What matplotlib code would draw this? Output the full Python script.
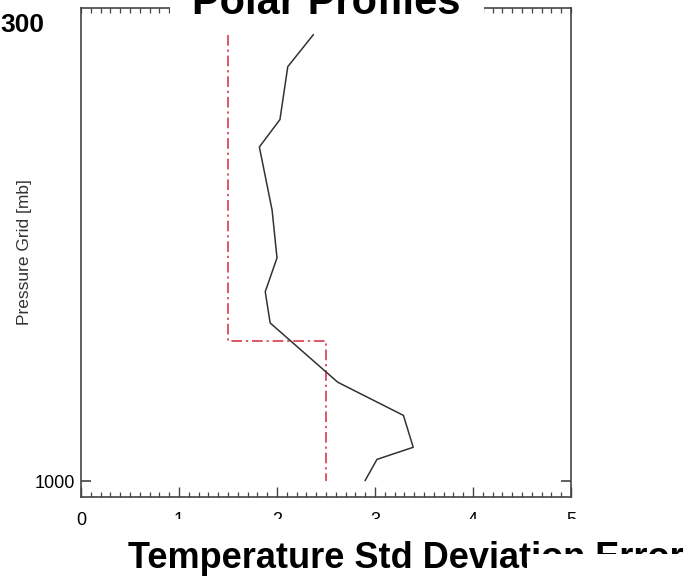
import matplotlib
matplotlib.use("Agg")
import matplotlib.pyplot as plt
from matplotlib.patches import Rectangle
from matplotlib.ticker import MultipleLocator

plt.rcParams['font.family'] = ['Liberation Sans', 'DejaVu Sans']

# retrieved std deviation error vs pressure level
pressure = [300, 350, 433, 476, 575, 650, 703, 752, 845, 897, 947, 966, 999]
std_err = [2.37, 2.11, 2.03, 1.82, 1.95, 2.00, 1.88, 1.93, 2.62, 3.29, 3.39, 3.02, 2.90]
# requirement (step profile)
req_pressure = [300, 780, 780, 1000]
req_err = [1.5, 1.5, 2.5, 2.5]

xticks = [0, 1, 2, 3, 4, 5]
yticks = [1000]

fig = plt.figure(figsize=(7, 5.78), dpi=100)
ax = fig.add_axes([81/700, 1-497/578, 490/700, 489/578])

ax.plot(req_err, req_pressure, color='#d22c3c', lw=1.1,
        linestyle=(0, (7, 2.5, 1.5, 2.5)))
ax.plot(std_err, pressure, color='#333333', lw=1.1)

ax.set_xlim(0, 5)
ax.set_ylim(1025, 258)
ax.set_xticks(xticks)
ax.set_xticklabels([str(v) for v in xticks])
ax.xaxis.set_minor_locator(MultipleLocator(0.1))
ax.set_yticks(yticks)
ax.set_yticklabels([str(v) for v in yticks])

for s in ax.spines.values():
    s.set_color('#444444')
    s.set_linewidth(1.2)

ax.tick_params(axis='x', which='major', direction='in', length=7, width=1,
               color='#444444', labelsize=13, pad=11)
ax.tick_params(axis='x', which='minor', direction='in', length=3.5, width=0.9,
               color='#444444')
ax.tick_params(axis='y', which='major', direction='in', length=7, width=1.2,
               right=True, color='#444444', labelsize=13, pad=4)

# top frame: short ticks only
top = ax.secondary_xaxis('top')
top.set_xticks(xticks)
top.xaxis.set_minor_locator(MultipleLocator(0.1))
top.tick_params(which='both', direction='in', length=3.5, width=0.9,
                color='#444444', labeltop=False)
top.spines['top'].set_visible(False)

ax.set_ylabel('Pressure Grid [mb]', fontsize=12.5, color='#333333')
ax.yaxis.set_label_coords(-0.1, 0.5)
ax.text(-81/490, (497-25)/489, '300', transform=ax.transAxes, fontsize=19,
        weight='bold', ha='left', va='center', clip_on=False)

# white strip behind the title, breaking the top frame
ax.add_patch(Rectangle((89/490, 0.985), 314/490, 0.06, transform=ax.transAxes,
                       facecolor='white', edgecolor='none', clip_on=False,
                       zorder=3))
ax.text(0.5, (497-14)/489, 'Polar Profiles', transform=ax.transAxes,
        fontsize=30, weight='bold', ha='center', va='baseline', zorder=4,
        clip_on=False)

ax.set_xlabel('Temperature Std Deviation Error', fontsize=26, weight='bold',
              ha='left', va='baseline')
ax.xaxis.set_label_coords(47/490, (497-568)/489)

# blank bands over the lower text rows
fig.add_artist(Rectangle((120/700, 1-537/578), 580/700, 18/578,
                         transform=fig.transFigure, facecolor='white',
                         edgecolor='none', zorder=10))
fig.add_artist(Rectangle((527/700, 0), 173/700, 24/578,
                         transform=fig.transFigure, facecolor='white',
                         edgecolor='none', zorder=10))

fig.savefig('out.png', dpi=100)
